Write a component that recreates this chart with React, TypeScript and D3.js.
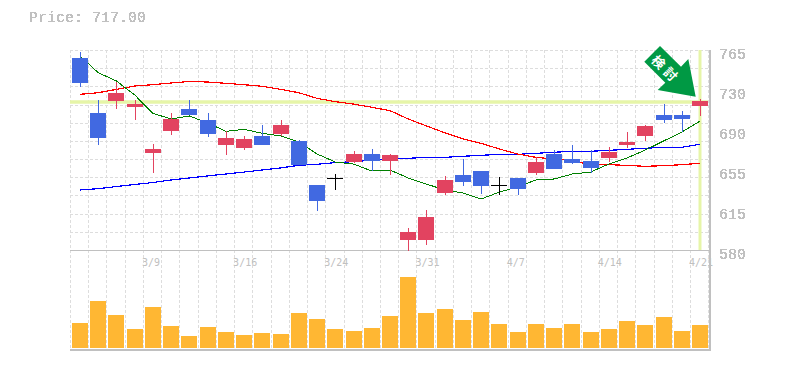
import React from "react";
import * as d3 from "d3";

const W = 785, H = 370;
const priceText = "Price: 717.00";
const yTicks = [765, 728, 691, 654, 617, 580];
const yLabels = ["765", "730", "690", "655", "615", "580"];
const lastPrice = 717;
const dateIndex = [4, 9, 14, 19, 24, 29, 34];
const dateLabels = ["3/9", "3/16", "3/24", "3/31", "4/7", "4/14", "4/21"];

// Values, price units
const py = (v: number) => +(580 + (250 - v) / (200 / 185)).toFixed(1);
const highs = [52, 100, 81.7, 100, 144, 113, 100, 113, 131, 136, 125, 120, 140, 185, 174, 151, 149, 154, 228, 210, 176, 159, 171, 177, 178, 157, 150, 145, 150, 147, 132, 125, 104, 111, 99].map(py);
const lows = [86.7, 144.7, 108.7, 120, 173, 135, 115, 136.7, 155, 150, 145, 136, 165, 211, 190, 163.3, 171, 175, 251, 245, 195, 186, 194, 195, 195, 175, 169, 164, 173, 162, 148, 141, 123, 132, 116].map(py);
const bodyTop = [58, 113, 93, 104, 149, 119, 109, 120, 138, 139, 136, 125, 141, 185, 178, 154, 154, 155, 232, 217, 180, 175, 171, 185, 178, 162, 154, 159, 161, 152, 142, 126, 115, 115, 101].map(py);
const bodyBottom = [82.7, 137.7, 101, 107, 153, 131, 115, 134, 145, 148, 145, 134, 165, 201, 178, 162, 161, 161, 240, 240, 193, 182, 186, 185, 189, 173, 169, 163, 168, 158, 145, 136, 120, 119, 106].map(py);
const kinds = "bbrrrrbbrrbrbbkrbrrrrbbkbrbbbrrrbbr".split("");

const maFast = [56, 72.7, 81, 95, 113.3, 119, 116, 123, 131.3, 129.3, 133.3, 136, 142, 154, 162, 164, 171, 170, 178, 184, 190, 193, 199, 192, 187, 180, 179, 174, 172, 164, 158, 150, 141, 132, 121].map(py);
const maMid = [94.3, 92.7, 89.3, 86, 84.7, 83, 81.5, 82, 83.3, 84.7, 86.3, 89.3, 92.7, 98.3, 101.7, 104, 107.3, 110.7, 119, 126, 132.7, 139, 143.3, 149, 154, 157.3, 159, 160.7, 164.7, 164.7, 165.3, 166.3, 165.7, 164.7, 163.3].map(py);
const maSlow = [190, 188.7, 186.5, 184.5, 182.5, 180, 178, 176, 174, 172, 170, 168, 165.3, 164.3, 162.7, 161.7, 160.3, 159.3, 158.3, 157.3, 157.3, 156.3, 155.3, 154.3, 154.3, 153.3, 152.3, 151.3, 151.3, 150.3, 149.3, 148.3, 147.3, 147.3, 144.3].map(py);
const volumes = [25, 47, 33, 19, 41, 22, 12, 21, 16, 13, 15, 14, 35, 29, 19, 17, 20, 32, 71, 35, 39, 28, 36, 24, 16, 24, 20, 24, 16, 19, 27, 23, 31, 17, 23];

const colors: Record<string, string> = { b: "#4169e1", r: "#e24360", k: "#000000" };

export default function App() {
  const n = kinds.length;
  const x = d3.scaleLinear().domain([0, n - 1]).range([80, 700]);
  const y = d3.scaleLinear().domain([580, 765]).range([250, 50]);
  const v = d3.scaleLinear().domain([0, 71]).range([348, 277]);
  const line = (a: number[]) =>
    d3.line<number>().x((_, i) => x(i)).y((d) => y(d))(a) || "";
  const bw = 16;
  const grey = "#c0c0c0";
  const mono = "'Liberation Mono', 'DejaVu Sans Mono', monospace";
  const vGrid = d3.range(36).map((i) => x(i - 0.55));
  const hGrid = d3.range(12).map((i) => 50 + (i * 200) / 11);
  return (
    <svg width={W} height={H} style={{ position: "absolute", left: 0, top: 0, background: "#fff" }}>
      <defs>
        <filter id="alias" x="-5%" y="-20%" width="110%" height="140%">
          <feComponentTransfer>
            <feFuncA type="discrete" tableValues="0 1 1" />
          </feComponentTransfer>
        </filter>
      </defs>
      <text x={29} y={22} fontFamily={mono} fontSize={15} fill={grey} filter="url(#alias)">{priceText}</text>
      {vGrid.map((gx, i) => (
        <line key={i} x1={Math.round(gx) + 0.5} x2={Math.round(gx) + 0.5} y1={50} y2={348} stroke="#dddddd" strokeDasharray="3 2" />
      ))}
      {hGrid.slice(0, 11).map((gy, i) => (
        <line key={i} x1={70} x2={708} y1={Math.round(gy) + 0.5} y2={Math.round(gy) + 0.5} stroke="#dddddd" strokeDasharray="3 2" />
      ))}
      <line x1={70} x2={710} y1={250.5} y2={250.5} stroke={grey} />
      <line x1={70} x2={711} y1={350} y2={350} stroke={grey} strokeWidth={2} />
      <line x1={710} x2={710} y1={50} y2={351} stroke={grey} strokeWidth={2} />
      <line x1={70} x2={708} y1={y(lastPrice)} y2={y(lastPrice)} stroke="#e6f5a8" strokeWidth={3.5} />
      <line x1={x(n - 1)} x2={x(n - 1)} y1={50} y2={250} stroke="#e6f5a8" strokeWidth={3} />
      <g shapeRendering="crispEdges">
        <path d={line(maSlow)} fill="none" stroke="#0000ff" strokeWidth={1.2} />
        <path d={line(maMid)} fill="none" stroke="#ff0000" strokeWidth={1.2} />
        <path d={line(maFast)} fill="none" stroke="#008000" strokeWidth={1} />
        {kinds.map((k, i) => {
          const rx = Math.round(x(i));
          const cx = rx + 0.5;
          const top = y(bodyTop[i]);
          const bot = y(bodyBottom[i]);
          return (
            <g key={i}>
              <line x1={cx} x2={cx} y1={y(highs[i])} y2={y(lows[i])} stroke={colors[k]} />
              {k === "k" ? (
                <line x1={rx - 8} x2={rx + 8} y1={top + 0.5} y2={top + 0.5} stroke={colors[k]} />
              ) : (
                <rect x={rx - bw / 2} y={top} width={bw} height={bot - top} fill={colors[k]} />
              )}
            </g>
          );
        })}
        {volumes.map((d, i) => (
          <rect key={i} x={Math.round(x(i)) - 8} y={v(d)} width={bw} height={348 - v(d)} fill="#ffb733" />
        ))}
      </g>
      {yTicks.map((t, i) => (
        <text key={t} x={719} y={y(t) + 8.5} fontFamily={mono} fontSize={15} fill={grey} filter="url(#alias)">{yLabels[i]}</text>
      ))}
      {dateIndex.map((d, i) => (
        <text key={d} x={x(d) - 11} y={266} fontFamily="'DejaVu Sans Mono', monospace" fontSize={10} fill={grey}>{dateLabels[i]}</text>
      ))}
      <g>
        <polygon points="660,46 644.3,61.7 665.3,82.7 657.7,90 695.7,96.7 688.3,59 681,66.7" fill="#009944" />
        <g transform="translate(666,69.5) rotate(45)">
          <text textAnchor="middle" y={5} letterSpacing={4} fontFamily="'Noto Sans CJK JP', sans-serif" fontWeight={700} fontSize={13} fill="#fff">検討</text>
        </g>
      </g>
    </svg>
  );
}
